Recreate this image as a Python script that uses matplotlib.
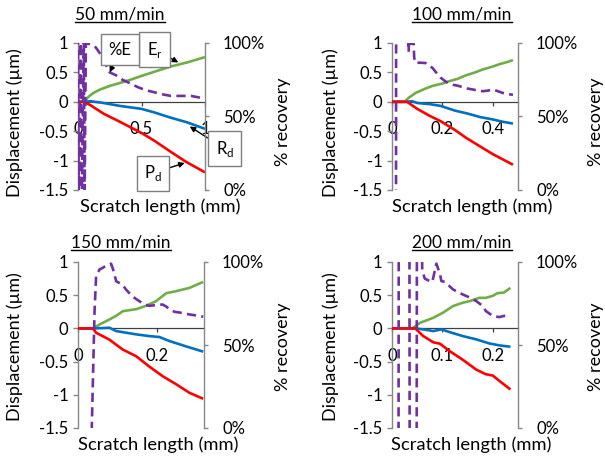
import matplotlib
matplotlib.use("Agg")
import matplotlib.pyplot as plt
from matplotlib.lines import Line2D

plt.rcParams['font.family'] = ['Lato', 'DejaVu Sans']
plt.rcParams['axes.unicode_minus'] = False

# ---------------- data ----------------
titles = ["50 mm/min", "100 mm/min", "150 mm/min", "200 mm/min"]
xlims = [1.0, 0.5, 0.32, 0.25]
xticks_list = [[0, 0.5, 1], [0, 0.2, 0.4], [0, 0.2], [0, 0.1, 0.2]]
xticklabels_list = [["0", "0.5", "1"], ["0", "0.2", "0.4"], ["0", "0.2"], ["0", "0.1", "0.2"]]
yticks = [1, 0.5, 0, -0.5, -1, -1.5]
yticklabels = ["1", "0.5", "0", "-0.5", "-1", "-1.5"]
rticks = [0, 0.5, 1]
rticklabels = ["0%", "50%", "100%"]

# 50 mm/min
x_pd50 = [0, 0.05, 0.1, 0.2, 0.33, 0.5, 0.6, 0.73, 0.85, 1.0]
pd50 = [0, 0, -0.06, -0.2, -0.34, -0.53, -0.66, -0.85, -1.02, -1.2]
x_rd50 = [0, 0.05, 0.1, 0.2, 0.33, 0.5, 0.6, 0.73, 0.86, 1.0]
rd50 = [0, 0, 0.01, -0.02, -0.07, -0.12, -0.18, -0.27, -0.35, -0.46]
x_er50 = [0, 0.05, 0.08, 0.12, 0.175, 0.25, 0.33, 0.42, 0.5, 0.6, 0.73, 0.86, 1.0]
er50 = [0, 0, 0.08, 0.15, 0.21, 0.27, 0.32, 0.38, 0.44, 0.51, 0.60, 0.67, 0.76]
x_pe50 = [0.0, 0.006, 0.022, 0.03, 0.046, 0.052, 0.062, 0.1, 0.14, 0.18, 0.22, 0.25,
          0.3, 0.35, 0.4, 0.47, 0.53, 0.6, 0.67, 0.73, 0.8, 0.89, 0.95, 1.0]
pe50 = [1.05, -0.05, 1.05, -0.05, 1.05, -0.05, 1.0, 0.99, 0.97, 0.92, 0.85, 0.80,
        0.78, 0.75, 0.73, 0.70, 0.68, 0.665, 0.65, 0.64, 0.64, 0.64, 0.63, 0.62]

# 100 mm/min
x_pd100 = [0, 0.06, 0.1, 0.15, 0.193, 0.25, 0.293, 0.35, 0.4, 0.44, 0.48]
pd100 = [0, 0, -0.12, -0.24, -0.33, -0.48, -0.61, -0.76, -0.89, -0.98, -1.07]
x_rd100 = [0, 0.06, 0.08, 0.1, 0.15, 0.193, 0.25, 0.3, 0.35, 0.4, 0.44, 0.48]
rd100 = [0, 0, 0.01, -0.02, -0.04, -0.07, -0.15, -0.2, -0.26, -0.3, -0.34, -0.37]
x_er100 = [0, 0.05, 0.067, 0.093, 0.13, 0.16, 0.2, 0.227, 0.26, 0.293, 0.33, 0.36, 0.4, 0.427, 0.46, 0.48]
er100 = [0, 0, 0.07, 0.15, 0.22, 0.27, 0.31, 0.35, 0.39, 0.45, 0.5, 0.55, 0.6, 0.64, 0.68, 0.71]
x_pe100 = [0.0, 0.015, 0.017, 0.06, 0.0665, 0.067, 0.086, 0.088, 0.093, 0.11, 0.133, 0.15,
           0.16, 0.175, 0.193, 0.215, 0.24, 0.26, 0.28, 0.3, 0.32, 0.34, 0.36, 0.38,
           0.4, 0.42, 0.44, 0.46, 0.48]
pe100 = [-3.0, -3.0, 3.0, 3.0, 0.94, 0.995, 0.995, 0.9, 0.864, 0.866, 0.864, 0.84,
         0.832, 0.80, 0.764, 0.735, 0.716, 0.71, 0.70, 0.69, 0.684, 0.676, 0.672, 0.676,
         0.684, 0.672, 0.66, 0.652, 0.648]

# 150 mm/min
x_pd150 = [0, 0.038, 0.046, 0.08, 0.114, 0.148, 0.18, 0.215, 0.249, 0.283, 0.318]
pd150 = [0, 0, -0.065, -0.17, -0.32, -0.42, -0.57, -0.72, -0.84, -0.97, -1.06]
x_rd150 = [0, 0.038, 0.08, 0.097, 0.148, 0.18, 0.207, 0.232, 0.274, 0.318]
rd150 = [0, 0, 0.01, -0.04, -0.09, -0.115, -0.13, -0.19, -0.27, -0.35]
x_er150 = [0, 0.038, 0.055, 0.08, 0.097, 0.114, 0.148, 0.173, 0.198, 0.224, 0.249, 0.283, 0.318]
er150 = [0, 0, 0.06, 0.135, 0.19, 0.26, 0.29, 0.34, 0.41, 0.53, 0.56, 0.61, 0.70]
x_pe150 = [0.0, 0.033, 0.035, 0.042, 0.046, 0.055, 0.063, 0.072, 0.084, 0.089, 0.097, 0.106,
           0.114, 0.122, 0.135, 0.148, 0.165, 0.18, 0.198, 0.215, 0.225, 0.232, 0.245,
           0.257, 0.27, 0.283, 0.3, 0.318]
pe150 = [-3.0, -3.0, 0.0, 0.7, 0.916, 0.956, 0.965, 0.98, 0.99, 0.956, 0.884, 0.872,
         0.86, 0.834, 0.80, 0.776, 0.75, 0.736, 0.74, 0.744, 0.73, 0.716, 0.70,
         0.696, 0.69, 0.684, 0.678, 0.67]

# 200 mm/min
x_pd200 = [0, 0.046, 0.062, 0.082, 0.095, 0.114, 0.14, 0.167, 0.186, 0.2, 0.213, 0.235]
pd200 = [0, 0, -0.115, -0.21, -0.23, -0.34, -0.47, -0.62, -0.69, -0.71, -0.79, -0.92]
x_rd200 = [0, 0.046, 0.062, 0.082, 0.098, 0.114, 0.14, 0.167, 0.193, 0.213, 0.235]
rd200 = [0, 0, -0.015, -0.04, -0.015, -0.055, -0.115, -0.165, -0.226, -0.256, -0.276]
x_er200 = [0, 0.04, 0.056, 0.082, 0.101, 0.121, 0.14, 0.154, 0.173, 0.186, 0.2, 0.209, 0.222, 0.235]
er200 = [0, 0, 0.085, 0.16, 0.236, 0.336, 0.386, 0.41, 0.46, 0.46, 0.49, 0.53, 0.54, 0.61]
x_pe200 = [0.0, 0.012, 0.014, 0.034, 0.036, 0.048, 0.05, 0.06, 0.065, 0.075, 0.08, 0.088,
           0.095, 0.098, 0.105, 0.121, 0.13, 0.14, 0.155, 0.167, 0.18, 0.186, 0.193,
           0.2, 0.213, 0.222, 0.235]
pe200 = [-3.0, -3.0, 3.0, 3.0, -3.0, -3.0, 3.0, 0.95, 0.9, 0.885, 0.88, 0.99,
         0.93, 0.885, 0.88, 0.835, 0.82, 0.805, 0.785, 0.765, 0.735, 0.705, 0.69,
         0.675, 0.668, 0.675, 0.68]

panels = [
    (x_pd50, pd50, x_rd50, rd50, x_er50, er50, x_pe50, pe50),
    (x_pd100, pd100, x_rd100, rd100, x_er100, er100, x_pe100, pe100),
    (x_pd150, pd150, x_rd150, rd150, x_er150, er150, x_pe150, pe150),
    (x_pd200, pd200, x_rd200, rd200, x_er200, er200, x_pe200, pe200),
]

# ---------------- layout (pixels) ----------------
W, H = 605, 459
boxes_px = [(78, 43, 205, 190), (392, 43, 518, 190), (78, 262, 204, 428), (392, 262, 518, 428)]
title_pos = [(120, 19.5), (462, 19.5), (121, 247), (462, 247)]
ylab_pos = [(15, 123), (331, 123), (15, 347), (331, 347)]
rlab_pos = [(283, 122), (596, 122), (283, 347), (596, 347)]
xlab_pos = [(160, 207), (472, 207), (158, 445), (471, 445)]

C_RED = '#FF0000'
C_BLUE = '#0070C0'
C_GREEN = '#70AD47'
C_PURP = '#7030A0'
C_SPINE = '#868686'
FS = 12
FS_LAB = 13.2

fig = plt.figure(figsize=(W / 100, H / 100), dpi=100)

def fx(p):
    return p / W

def fy(p):
    return 1 - p / H

axes_main = []
axes_twin = []
for i, (l, t, r, b) in enumerate(boxes_px):
    ax = fig.add_axes([fx(l), fy(b), (r - l) / W, (b - t) / H])
    xp, yp, xr, yr, xe, ye, xpe, ype = panels[i]
    ax.plot(xe, ye, color=C_GREEN, lw=1.9, solid_capstyle='butt', zorder=3)
    ax.plot(xr, yr, color=C_BLUE, lw=1.9, solid_capstyle='butt', zorder=3)
    ax.plot(xp, yp, color=C_RED, lw=1.9, solid_capstyle='butt', zorder=3)
    ax.set_xlim(0, xlims[i])
    ax.set_ylim(-1.5, 1.0)
    ax.set_yticks(yticks)
    ax.set_yticklabels(yticklabels)
    ax.set_xticks(xticks_list[i])
    ax.set_xticklabels(xticklabels_list[i])
    ax.patch.set_visible(False)
    for s in ['top', 'right']:
        ax.spines[s].set_visible(False)
    ax.spines['left'].set_color(C_SPINE)
    ax.spines['left'].set_linewidth(1.0)
    ax.spines['bottom'].set_position(('data', 0))
    ax.spines['bottom'].set_color('#404040')
    ax.spines['bottom'].set_linewidth(0.9)
    ax.tick_params(axis='y', direction='out', length=3.5, width=1.0, color=C_SPINE,
                   pad=3.5, labelsize=FS, labelcolor='black')
    ax.tick_params(axis='x', direction='out', length=3, width=0.9, color='#404040',
                   pad=11, labelsize=FS, labelcolor='black')

    ax2 = ax.twinx()
    ax2.plot(xpe, ype, color=C_PURP, lw=1.9, linestyle=(0, (3.5, 2)), zorder=3)
    ax2.set_ylim(0, 1)
    ax2.set_xlim(0, xlims[i])
    ax2.set_yticks(rticks)
    ax2.set_yticklabels(rticklabels)
    for s in ['top', 'left', 'bottom']:
        ax2.spines[s].set_visible(False)
    ax2.spines['right'].set_color(C_SPINE)
    ax2.spines['right'].set_linewidth(1.0)
    ax2.tick_params(axis='y', direction='out', length=3, width=1.0, color=C_SPINE,
                    pad=10, labelsize=FS, labelcolor='black')
    axes_main.append(ax)
    axes_twin.append(ax2)

    fig.text(fx(ylab_pos[i][0]), fy(ylab_pos[i][1]), "Displacement (\u00b5m)",
             rotation=90, ha='center', va='center', fontsize=13)
    fig.text(fx(rlab_pos[i][0]), fy(rlab_pos[i][1]), "% recovery",
             rotation=90, ha='center', va='center', fontsize=13)
    fig.text(fx(xlab_pos[i][0]), fy(xlab_pos[i][1]), "Scratch length (mm)",
             ha='center', va='center', fontsize=FS_LAB)

title_texts = []
for i, (tx, ty) in enumerate(title_pos):
    t = fig.text(fx(tx), fy(ty), titles[i], ha='center', va='baseline', fontsize=FS + 0.5)
    title_texts.append(t)

# annotations in first panel
ax, ax2 = axes_main[0], axes_twin[0]
bbox_kw = dict(boxstyle='square,pad=0.45', fc='white', ec='#7f7f7f', lw=1.0)
arrow_kw = dict(arrowstyle='-|>', color='black', lw=1.0, shrinkA=0, shrinkB=0,
                mutation_scale=8)
ax2.annotate("%E", xy=(0.25, 0.80), xycoords='data', xytext=(0.33, 0.955),
             textcoords='axes fraction', ha='center', va='center', fontsize=FS,
             bbox=bbox_kw, arrowprops=arrow_kw, annotation_clip=False, zorder=10)
ax.annotate("E$_\\mathregular{r}$", xy=(0.79, 0.67), xycoords='data', xytext=(0.605, 0.955),
            textcoords='axes fraction', ha='center', va='center', fontsize=FS,
            bbox=bbox_kw, arrowprops=arrow_kw, annotation_clip=False, zorder=10)
ax.annotate("R$_\\mathregular{d}$", xy=(0.88, -0.42), xycoords='data', xytext=(1.155, 0.28),
            textcoords='axes fraction', ha='center', va='center', fontsize=FS,
            bbox=bbox_kw, arrowprops=arrow_kw, annotation_clip=False, zorder=10)
ax.annotate("P$_\\mathregular{d}$", xy=(0.84, -1.04), xycoords='data', xytext=(0.59, 0.115),
            textcoords='axes fraction', ha='center', va='center', fontsize=FS,
            bbox=bbox_kw, arrowprops=arrow_kw, annotation_clip=False, zorder=10)

# underline titles
fig.canvas.draw()
renderer = fig.canvas.get_renderer()
for i, t in enumerate(title_texts):
    bb = t.get_window_extent(renderer=renderer)
    yline = fy(title_pos[i][1] + 2.5)
    fig.add_artist(Line2D([bb.x0 / W, bb.x1 / W], [yline, yline], color='black', lw=1.0))

fig.savefig("out.png", dpi=100)
